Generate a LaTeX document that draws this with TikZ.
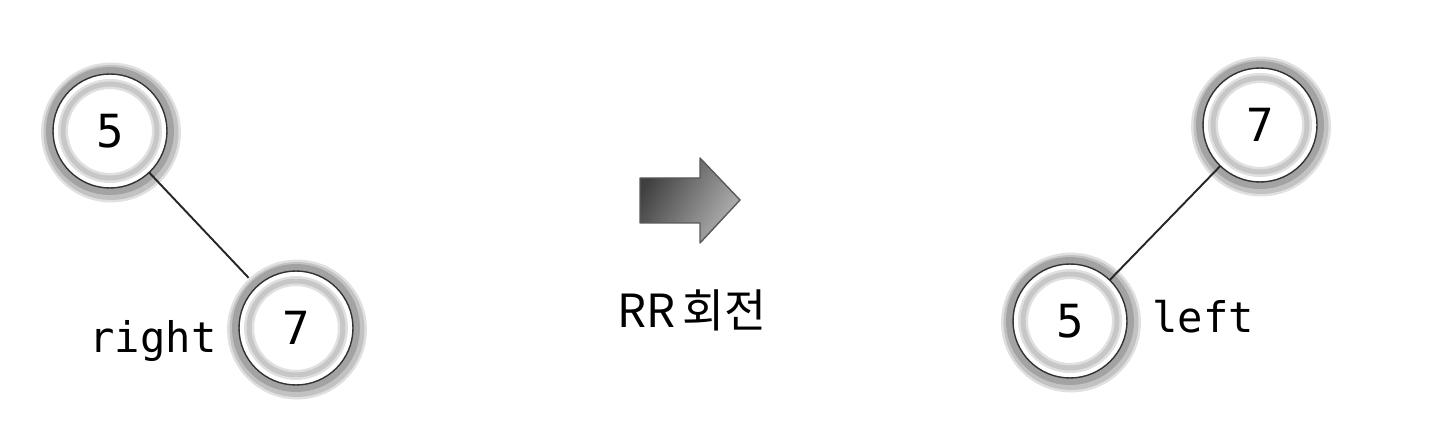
\documentclass[tikz,border=0pt]{standalone}
\usepackage{fontspec}
\setmonofont{DejaVu Sans Mono}
\newfontfamily\krfont{Noto Sans CJK KR}
\begin{document}
\tikzset{
  treenode/.style={circle, minimum size=2.28cm, inner sep=0pt, outer sep=0pt,
    fill=white, draw=black!80, line width=0.8pt,
    preaction={draw=black!12, line width=0.52cm, transform canvas={shift={(0.02cm,-0.03cm)}}},
    preaction={draw=black!24, line width=0.42cm, transform canvas={shift={(0.02cm,-0.03cm)}}},
    preaction={draw=black!36, line width=0.28cm},
    path picture={\draw[black!12, line width=0.2cm]
      (path picture bounding box.center) circle (0.94cm);
      \draw[black!22, line width=0.1cm]
      (path picture bounding box.center) circle (0.94cm);},
    font=\ttfamily\fontsize{26}{26}\selectfont},
  sidelabel/.style={font=\ttfamily\fontsize{24}{24}\selectfont, inner sep=0pt, anchor=base},
  edge/.style={draw=black!85, line width=1.1pt}
}
\begin{tikzpicture}[x=0.02cm, y=-0.02cm]
\useasboundingbox (0,0) rectangle (1440,432);
% before rotation
\node[treenode] (a5) at (110,131) {5};
\node[treenode] (a7) at (296,328) {7};
\node[sidelabel] (aright) at (153,352) {right};
\draw[edge, shorten >=0.24cm] (a5) -- (a7);
% rotation arrow
\path[left color=black!75, right color=black!30, shading angle=60, draw=black!65, line width=0.8pt, line join=round]
  (640,178) -- (700,178) -- (700,158) -- (740,200) -- (700,243) -- (700,223) -- (640,223) -- cycle;
\node[font=\krfont\fontsize{26}{26}\selectfont, inner sep=0pt, anchor=base] (rot) at (692,327) {RR\,회전};
% after rotation
\node[treenode] (b7) at (1260,125) {7};
\node[treenode] (b5) at (1070,321) {5};
\node[sidelabel] (bleft) at (1203,332) {left};
\draw[edge] (b7) -- (b5);
\end{tikzpicture}
\end{document}
